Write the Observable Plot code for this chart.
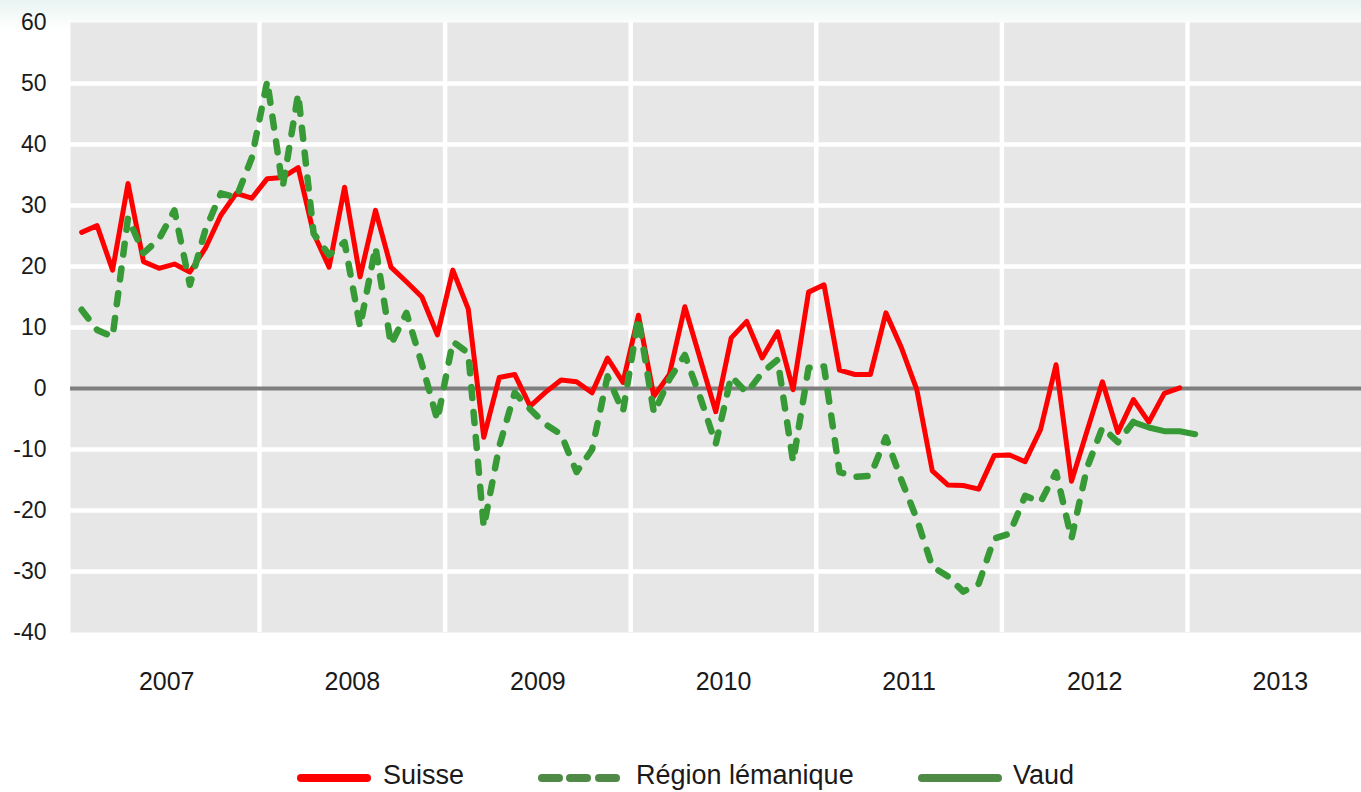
<!DOCTYPE html>
<html>
<head>
<meta charset="utf-8">
<script src="https://cdn.jsdelivr.net/npm/d3@7"></script>
<script src="https://cdn.jsdelivr.net/npm/@observablehq/plot@0.6"></script>
<style>
  html, body { margin: 0; padding: 0; }
  body { width: 1361px; height: 792px; overflow: hidden; position: relative;
         background: linear-gradient(#e8f5f2 0px, #ffffff 30px);
         font-family: "Liberation Sans", Arial, sans-serif; }
  #chart { position: absolute; left: 0; top: 0; }
  .leg-line { position: absolute; height: 8px; border-radius: 4px; }
  .leg-text { position: absolute; font-size: 27px; color: #1a1a1a; line-height: 1; white-space: nowrap; }
</style>
</head>
<body>
<div id="chart"></div>
<div id="legend"></div>
<script>
// ---- data (monthly, starting January 2007) ----
const startYear = 2007;
const yearLabels = ["2007", "2008", "2009", "2010", "2011", "2012", "2013"];
const yTicks = [-40, -30, -20, -10, 0, 10, 20, 30, 40, 50, 60];

// Suisse: Jan 2007 – Dec 2012
const suisse = [
  25.6, 26.7, 19.4, 33.6, 20.8, 19.7, 20.4, 19.1, 23.0, 28.4, 32.0, 31.2,
  34.4, 34.6, 36.2, 25.4, 19.9, 33.0, 18.3, 29.2, 19.9, 17.5, 15.0, 8.8,
  19.4, 13.0, -8.0, 1.8, 2.3, -2.9, -0.6, 1.4, 1.1, -0.7, 5.0, 1.0,
  12.0, -1.3, 2.3, 13.4, 4.8, -3.8, 8.3, 11.0, 5.0, 9.3, -0.2, 15.8,
  17.0, 3.0, 2.3, 2.3, 12.4, 6.7, -0.2, -13.5, -15.8, -15.9, -16.5, -11.0,
  -10.9, -12.0, -6.7, 3.9, -15.2, -7.0, 1.1, -7.2, -1.8, -5.5, -0.8, 0.1
];
// Région lémanique: Jan 2007 – Sep 2012
const regionLemanique = [
  12.9, 9.6, 8.5, 28.0, 22.2, 24.5, 29.2, 17.0, 26.0, 32.0, 31.3, 37.8,
  50.4, 33.0, 48.3, 25.4, 21.9, 24.0, 10.1, 23.2, 7.2, 12.4, 4.0, -5.2,
  7.7, 5.8, -22.7, -9.5, -0.7, -3.4, -5.9, -7.5, -13.7, -10.0, 2.0, -3.8,
  11.6, -4.0, 1.5, 5.5, -1.5, -9.1, 2.0, -0.7, 2.6, 4.7, -12.0, 3.4,
  3.6, -13.7, -14.5, -14.3, -8.0, -15.0, -21.4, -29.2, -30.8, -33.3, -32.0, -24.6,
  -23.8, -17.6, -18.6, -13.7, -24.6, -13.0, -6.4, -8.8, -5.5
];
// Vaud: Sep 2012 – Jan 2013
const vaudStartMonth = 68;
const vaud = [-5.5, -6.4, -7.0, -7.0, -7.5];

// ---- build tables ----
const toRows = (arr, offset = 0) => arr.map((v, i) => ({m: offset + i + 0.5, v}));
const rowsSuisse = toRows(suisse);
const rowsRegion = toRows(regionLemanique);
const rowsVaud = toRows(vaud, vaudStartMonth);
const yearBoundaries = yearLabels.slice(1).map((_, i) => (i + 1) * 12);
const yearCenters = yearLabels.map((_, i) => i * 12 + 6);
const gridY = yTicks.filter(t => t !== 0 && t !== yTicks[0] && t !== yTicks[yTicks.length - 1]);

const RED = "#ff0000";
const GREEN = "#379a37";

const chart = Plot.plot({
  width: 1361,
  height: 740,
  marginLeft: 70,
  marginRight: 0,
  marginTop: 22,
  marginBottom: 108,
  style: {fontFamily: "'Liberation Sans', Arial, sans-serif", color: "#1a1a1a", background: "transparent", overflow: "visible"},
  x: {domain: [-0.22, 83.25]},
  y: {domain: [-40, 60]},
  marks: [
    Plot.frame({fill: "#e7e7e7", stroke: null}),
    Plot.ruleY(gridY, {stroke: "white", strokeWidth: 4.5}),
    Plot.ruleX(yearBoundaries, {stroke: "white", strokeWidth: 4.5}),
    Plot.ruleY([0], {stroke: "#7f7f7f", strokeWidth: 4}),
    Plot.axisY({ticks: yTicks, tickSize: 0, tickPadding: 24, fontSize: 23, label: null, tickFormat: d => String(d)}),
    Plot.axisX({ticks: yearCenters, tickSize: 0, tickPadding: 40, fontSize: 25,
                tickFormat: d => yearLabels[Math.round((d - 6) / 12)], label: null}),
    Plot.line(rowsSuisse, {x: "m", y: "v", stroke: RED, strokeWidth: 5, strokeLinejoin: "round", strokeLinecap: "round"}),
    Plot.line(rowsRegion, {x: "m", y: "v", stroke: GREEN, strokeWidth: 6.5, strokeDasharray: "11,14", strokeLinejoin: "round", strokeLinecap: "round"}),
    Plot.line(rowsVaud, {x: "m", y: "v", stroke: GREEN, strokeWidth: 6, strokeLinejoin: "round", strokeLinecap: "round"})
  ]
});
document.getElementById("chart").appendChild(chart);

// ---- legend ----
const LEG = "#4f8b47";
const legend = document.getElementById("legend");
function addLine(left, width, color) {
  const d = document.createElement("div");
  d.className = "leg-line";
  d.style.left = left + "px"; d.style.top = "774px";
  d.style.width = width + "px"; d.style.background = color;
  legend.appendChild(d);
}
function addText(left, txt) {
  const s = document.createElement("div");
  s.className = "leg-text";
  s.style.left = left + "px"; s.style.top = "762px";
  s.textContent = txt;
  legend.appendChild(s);
}
addLine(297, 74, RED); addText(383, "Suisse");
addLine(538, 25, LEG); addLine(566, 25, LEG); addLine(595, 25, LEG); addText(636, "Région lémanique");
addLine(918, 84, LEG); addText(1013, "Vaud");
</script>
</body>
</html>
